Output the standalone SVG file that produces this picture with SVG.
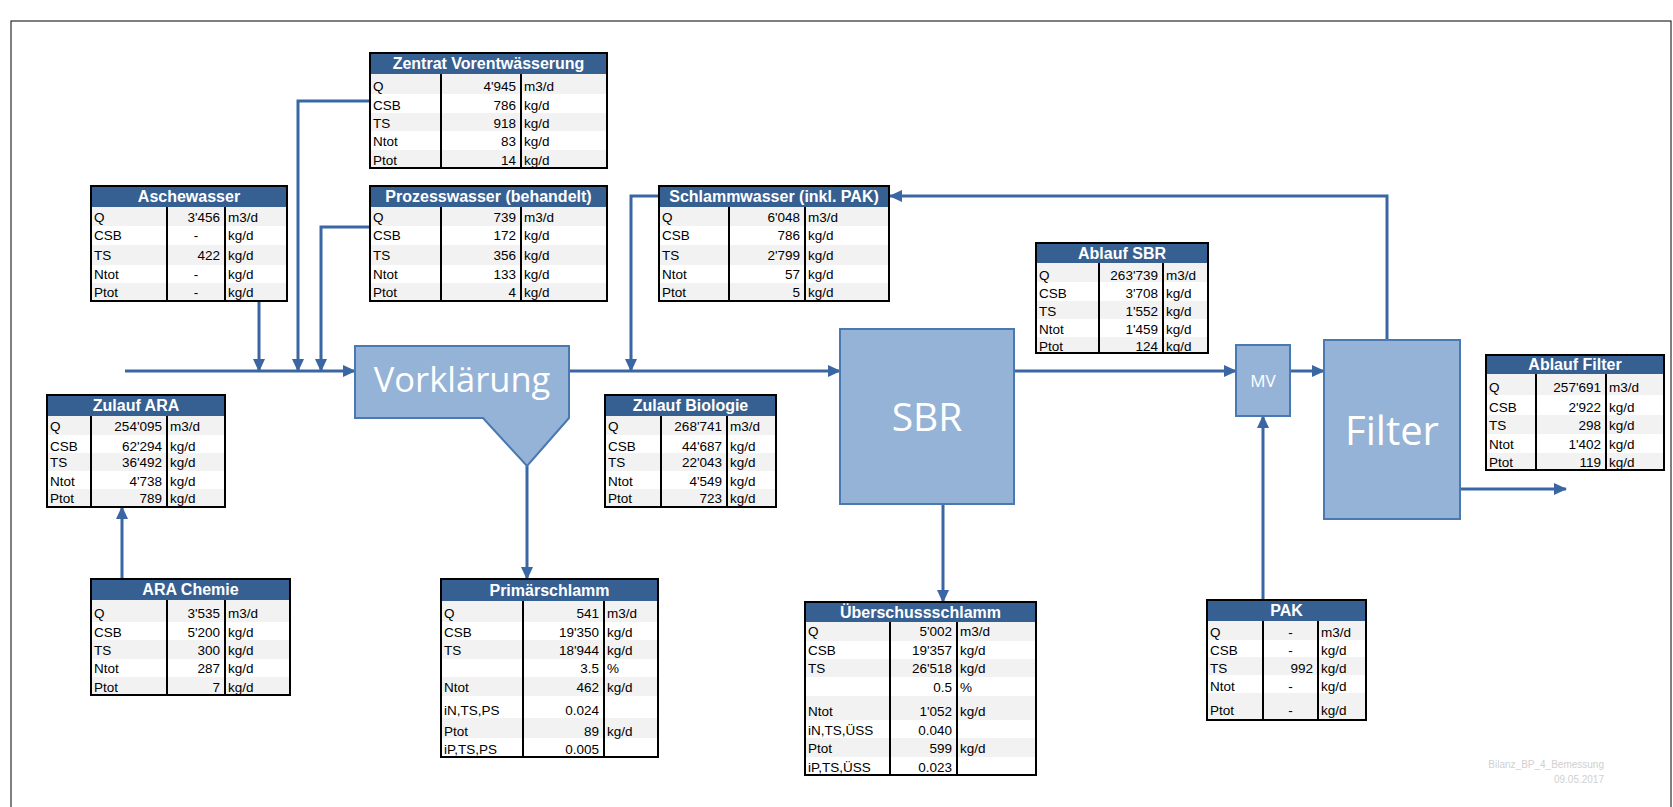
<svg xmlns="http://www.w3.org/2000/svg" width="1673" height="807" viewBox="0 0 1673 807">
<defs>
<style>
.tt{fill:#376092}
.th{font-family:"Liberation Sans",Arial,sans-serif;font-weight:bold;font-size:16px;fill:#fff;text-anchor:middle}
.td{font-family:"Liberation Sans",Arial,sans-serif;font-size:13.5px;fill:#000}
.r{text-anchor:end}
.c{text-anchor:middle}
.g{fill:#F2F2F2}
.bd{fill:none;stroke:#000;stroke-width:2}
.ln{stroke:#000;stroke-width:2}
.shape{fill:#95B3D7;stroke:#4A78B0;stroke-width:2}
.big{font-family:"Open Sans","Liberation Sans",sans-serif;fill:#fff;text-anchor:middle}
.conn path{fill:none;stroke:#3A67A3;stroke-width:3}
.foot{font-family:"Liberation Sans",Arial,sans-serif;font-size:10px;fill:#D0D0D0;text-anchor:end}
</style>
<marker id="ah" viewBox="0 0 13 12" refX="12" refY="6" markerWidth="13" markerHeight="12" markerUnits="userSpaceOnUse" orient="auto">
<path d="M0,0 L13,6 L0,12 z" fill="#3A67A3"/>
</marker>
</defs>
<rect x="0" y="0" width="1673" height="807" fill="#fff"/>
<rect x="11" y="21" width="1660" height="800" fill="none" stroke="#000" stroke-width="1"/>

<g class="conn">
<path d="M125 371 H355" marker-end="url(#ah)"/>
<path d="M259 301 V371" marker-end="url(#ah)"/>
<path d="M370 101 H298 V371" marker-end="url(#ah)"/>
<path d="M370 227 H321 V371" marker-end="url(#ah)"/>
<path d="M569 371 H840" marker-end="url(#ah)"/>
<path d="M659 196 H631 V371" marker-end="url(#ah)"/>
<path d="M1014 371 H1236" marker-end="url(#ah)"/>
<path d="M1290 371 H1324" marker-end="url(#ah)"/>
<path d="M1387 340 V196 H890" marker-end="url(#ah)"/>
<path d="M1460 489 H1566" marker-end="url(#ah)"/>
<path d="M527 466 V579" marker-end="url(#ah)"/>
<path d="M943 504 V602" marker-end="url(#ah)"/>
<path d="M1263 600 V416" marker-end="url(#ah)"/>
<path d="M122 579 V507" marker-end="url(#ah)"/>
</g>

<g id="vorklaerung">
<path class="shape" d="M355 346 H569 V418 L527 466 L483 418 H355 Z"/>
<text class="big" x="462" y="392" font-size="34.5">Vorklärung</text>
</g>
<g id="sbr">
<rect class="shape" x="840" y="329" width="174" height="175"/>
<text class="big" x="927" y="431" font-size="39">SBR</text>
</g>
<g id="mv">
<rect class="shape" x="1236" y="345" width="54" height="71"/>
<text class="big" x="1263" y="387" font-size="17">MV</text>
</g>
<g id="filter">
<rect class="shape" x="1324" y="340" width="136" height="179"/>
<text class="big" x="1392" y="445" font-size="40">Filter</text>
</g>

<g id="t-zentrat">
<rect class="tt" x="370" y="53" width="237" height="21"/>
<rect class="g" x="370" y="74" width="237" height="20"/>
<rect class="g" x="370" y="113" width="237" height="18"/>
<rect class="g" x="370" y="150" width="237" height="18"/>
<text class="th" x="488.5" y="69">Zentrat Vorentwässerung</text>
<text class="td" x="373" y="90.7">Q</text><text class="td r" x="516" y="90.7">4'945</text><text class="td" x="524" y="90.7">m3/d</text>
<text class="td" x="373" y="110">CSB</text><text class="td r" x="516" y="110">786</text><text class="td" x="524" y="110">kg/d</text>
<text class="td" x="373" y="128.3">TS</text><text class="td r" x="516" y="128.3">918</text><text class="td" x="524" y="128.3">kg/d</text>
<text class="td" x="373" y="146">Ntot</text><text class="td r" x="516" y="146">83</text><text class="td" x="524" y="146">kg/d</text>
<text class="td" x="373" y="165">Ptot</text><text class="td r" x="516" y="165">14</text><text class="td" x="524" y="165">kg/d</text>
<line class="ln" x1="441" y1="74" x2="441" y2="168"/><line class="ln" x1="521" y1="74" x2="521" y2="168"/>
<rect class="bd" x="370" y="53" width="237" height="115"/>
</g>

<g id="t-asche">
<rect class="tt" x="91" y="186" width="196" height="21"/>
<rect class="g" x="91" y="207" width="196" height="19"/>
<rect class="g" x="91" y="245" width="196" height="20"/>
<rect class="g" x="91" y="283" width="196" height="18"/>
<text class="th" x="189" y="202">Aschewasser</text>
<text class="td" x="94" y="221.7">Q</text><text class="td r" x="220" y="221.7">3'456</text><text class="td" x="228" y="221.7">m3/d</text>
<text class="td" x="94" y="240">CSB</text><text class="td c" x="196" y="240">-</text><text class="td" x="228" y="240">kg/d</text>
<text class="td" x="94" y="260">TS</text><text class="td r" x="220" y="260">422</text><text class="td" x="228" y="260">kg/d</text>
<text class="td" x="94" y="279">Ntot</text><text class="td c" x="196" y="279">-</text><text class="td" x="228" y="279">kg/d</text>
<text class="td" x="94" y="296.7">Ptot</text><text class="td c" x="196" y="296.7">-</text><text class="td" x="228" y="296.7">kg/d</text>
<line class="ln" x1="167" y1="207" x2="167" y2="301"/><line class="ln" x1="225" y1="207" x2="225" y2="301"/>
<rect class="bd" x="91" y="186" width="196" height="115"/>
</g>

<g id="t-prozess">
<rect class="tt" x="370" y="186" width="237" height="21"/>
<rect class="g" x="370" y="207" width="237" height="19"/>
<rect class="g" x="370" y="245" width="237" height="20"/>
<rect class="g" x="370" y="283" width="237" height="18"/>
<text class="th" x="488.5" y="202">Prozesswasser (behandelt)</text>
<text class="td" x="373" y="221.7">Q</text><text class="td r" x="516" y="221.7">739</text><text class="td" x="524" y="221.7">m3/d</text>
<text class="td" x="373" y="240">CSB</text><text class="td r" x="516" y="240">172</text><text class="td" x="524" y="240">kg/d</text>
<text class="td" x="373" y="260">TS</text><text class="td r" x="516" y="260">356</text><text class="td" x="524" y="260">kg/d</text>
<text class="td" x="373" y="279">Ntot</text><text class="td r" x="516" y="279">133</text><text class="td" x="524" y="279">kg/d</text>
<text class="td" x="373" y="296.7">Ptot</text><text class="td r" x="516" y="296.7">4</text><text class="td" x="524" y="296.7">kg/d</text>
<line class="ln" x1="441" y1="207" x2="441" y2="301"/><line class="ln" x1="521" y1="207" x2="521" y2="301"/>
<rect class="bd" x="370" y="186" width="237" height="115"/>
</g>

<g id="t-schlamm">
<rect class="tt" x="659" y="186" width="230" height="21"/>
<rect class="g" x="659" y="207" width="230" height="19"/>
<rect class="g" x="659" y="245" width="230" height="20"/>
<rect class="g" x="659" y="283" width="230" height="18"/>
<text class="th" x="774" y="202">Schlammwasser (inkl. PAK)</text>
<text class="td" x="662" y="221.7">Q</text><text class="td r" x="800" y="221.7">6'048</text><text class="td" x="808" y="221.7">m3/d</text>
<text class="td" x="662" y="240">CSB</text><text class="td r" x="800" y="240">786</text><text class="td" x="808" y="240">kg/d</text>
<text class="td" x="662" y="260">TS</text><text class="td r" x="800" y="260">2'799</text><text class="td" x="808" y="260">kg/d</text>
<text class="td" x="662" y="279">Ntot</text><text class="td r" x="800" y="279">57</text><text class="td" x="808" y="279">kg/d</text>
<text class="td" x="662" y="296.7">Ptot</text><text class="td r" x="800" y="296.7">5</text><text class="td" x="808" y="296.7">kg/d</text>
<line class="ln" x1="729" y1="207" x2="729" y2="301"/><line class="ln" x1="805" y1="207" x2="805" y2="301"/>
<rect class="bd" x="659" y="186" width="230" height="115"/>
</g>

<g id="t-ablaufsbr">
<rect class="tt" x="1036" y="243" width="172" height="20"/>
<rect class="g" x="1036" y="263" width="172" height="19"/>
<rect class="g" x="1036" y="301" width="172" height="18"/>
<rect class="g" x="1036" y="337" width="172" height="16"/>
<text class="th" x="1122" y="258.5">Ablauf SBR</text>
<text class="td" x="1039" y="280">Q</text><text class="td r" x="1158" y="280">263'739</text><text class="td" x="1166" y="280">m3/d</text>
<text class="td" x="1039" y="298">CSB</text><text class="td r" x="1158" y="298">3'708</text><text class="td" x="1166" y="298">kg/d</text>
<text class="td" x="1039" y="316">TS</text><text class="td r" x="1158" y="316">1'552</text><text class="td" x="1166" y="316">kg/d</text>
<text class="td" x="1039" y="334">Ntot</text><text class="td r" x="1158" y="334">1'459</text><text class="td" x="1166" y="334">kg/d</text>
<text class="td" x="1039" y="351">Ptot</text><text class="td r" x="1158" y="351">124</text><text class="td" x="1166" y="351">kg/d</text>
<line class="ln" x1="1099" y1="263" x2="1099" y2="353"/><line class="ln" x1="1163" y1="263" x2="1163" y2="353"/>
<rect class="bd" x="1036" y="243" width="172" height="110"/>
</g>

<g id="t-zulaufara">
<rect class="tt" x="47" y="395" width="178" height="21"/>
<rect class="g" x="47" y="416" width="178" height="19"/>
<rect class="g" x="47" y="453" width="178" height="18"/>
<rect class="g" x="47" y="489" width="178" height="18"/>
<text class="th" x="136" y="411">Zulauf ARA</text>
<text class="td" x="50" y="430.7">Q</text><text class="td r" x="162" y="430.7">254'095</text><text class="td" x="170" y="430.7">m3/d</text>
<text class="td" x="50" y="450.7">CSB</text><text class="td r" x="162" y="450.7">62'294</text><text class="td" x="170" y="450.7">kg/d</text>
<text class="td" x="50" y="467.3">TS</text><text class="td r" x="162" y="467.3">36'492</text><text class="td" x="170" y="467.3">kg/d</text>
<text class="td" x="50" y="485.7">Ntot</text><text class="td r" x="162" y="485.7">4'738</text><text class="td" x="170" y="485.7">kg/d</text>
<text class="td" x="50" y="503.3">Ptot</text><text class="td r" x="162" y="503.3">789</text><text class="td" x="170" y="503.3">kg/d</text>
<line class="ln" x1="91" y1="416" x2="91" y2="507"/><line class="ln" x1="167" y1="416" x2="167" y2="507"/>
<rect class="bd" x="47" y="395" width="178" height="112"/>
</g>

<g id="t-zulaufbio">
<rect class="tt" x="605" y="395" width="171" height="21"/>
<rect class="g" x="605" y="416" width="171" height="19"/>
<rect class="g" x="605" y="453" width="171" height="18"/>
<rect class="g" x="605" y="489" width="171" height="18"/>
<text class="th" x="690.5" y="411">Zulauf Biologie</text>
<text class="td" x="608" y="430.7">Q</text><text class="td r" x="722" y="430.7">268'741</text><text class="td" x="730" y="430.7">m3/d</text>
<text class="td" x="608" y="450.7">CSB</text><text class="td r" x="722" y="450.7">44'687</text><text class="td" x="730" y="450.7">kg/d</text>
<text class="td" x="608" y="467.3">TS</text><text class="td r" x="722" y="467.3">22'043</text><text class="td" x="730" y="467.3">kg/d</text>
<text class="td" x="608" y="485.7">Ntot</text><text class="td r" x="722" y="485.7">4'549</text><text class="td" x="730" y="485.7">kg/d</text>
<text class="td" x="608" y="503.3">Ptot</text><text class="td r" x="722" y="503.3">723</text><text class="td" x="730" y="503.3">kg/d</text>
<line class="ln" x1="661" y1="416" x2="661" y2="507"/><line class="ln" x1="727" y1="416" x2="727" y2="507"/>
<rect class="bd" x="605" y="395" width="171" height="112"/>
</g>

<g id="t-ablauffilter">
<rect class="tt" x="1486" y="355" width="178" height="19"/>
<rect class="g" x="1486" y="374" width="178" height="21"/>
<rect class="g" x="1486" y="415" width="178" height="19"/>
<rect class="g" x="1486" y="453" width="178" height="17"/>
<text class="th" x="1575" y="370">Ablauf Filter</text>
<text class="td" x="1489" y="391.7">Q</text><text class="td r" x="1601" y="391.7">257'691</text><text class="td" x="1609" y="391.7">m3/d</text>
<text class="td" x="1489" y="411.7">CSB</text><text class="td r" x="1601" y="411.7">2'922</text><text class="td" x="1609" y="411.7">kg/d</text>
<text class="td" x="1489" y="430">TS</text><text class="td r" x="1601" y="430">298</text><text class="td" x="1609" y="430">kg/d</text>
<text class="td" x="1489" y="449">Ntot</text><text class="td r" x="1601" y="449">1'402</text><text class="td" x="1609" y="449">kg/d</text>
<text class="td" x="1489" y="466.7">Ptot</text><text class="td r" x="1601" y="466.7">119</text><text class="td" x="1609" y="466.7">kg/d</text>
<line class="ln" x1="1536" y1="374" x2="1536" y2="470"/><line class="ln" x1="1606" y1="374" x2="1606" y2="470"/>
<rect class="bd" x="1486" y="355" width="178" height="115"/>
</g>

<g id="t-arachemie">
<rect class="tt" x="91" y="579" width="199" height="21"/>
<rect class="g" x="91" y="600" width="199" height="22"/>
<rect class="g" x="91" y="640" width="199" height="19"/>
<rect class="g" x="91" y="677" width="199" height="18"/>
<text class="th" x="190.5" y="595">ARA Chemie</text>
<text class="td" x="94" y="618.3">Q</text><text class="td r" x="220" y="618.3">3'535</text><text class="td" x="228" y="618.3">m3/d</text>
<text class="td" x="94" y="636.7">CSB</text><text class="td r" x="220" y="636.7">5'200</text><text class="td" x="228" y="636.7">kg/d</text>
<text class="td" x="94" y="655">TS</text><text class="td r" x="220" y="655">300</text><text class="td" x="228" y="655">kg/d</text>
<text class="td" x="94" y="673.3">Ntot</text><text class="td r" x="220" y="673.3">287</text><text class="td" x="228" y="673.3">kg/d</text>
<text class="td" x="94" y="691.7">Ptot</text><text class="td r" x="220" y="691.7">7</text><text class="td" x="228" y="691.7">kg/d</text>
<line class="ln" x1="167" y1="600" x2="167" y2="695"/><line class="ln" x1="225" y1="600" x2="225" y2="695"/>
<rect class="bd" x="91" y="579" width="199" height="116"/>
</g>

<g id="t-primaer">
<rect class="tt" x="441" y="579" width="217" height="22"/>
<rect class="g" x="441" y="601" width="217" height="21"/>
<rect class="g" x="441" y="640" width="217" height="19"/>
<rect class="g" x="441" y="677" width="217" height="19"/>
<rect class="g" x="441" y="718" width="217" height="20"/>
<text class="th" x="549.5" y="595.5">Primärschlamm</text>
<text class="td" x="444" y="617.7">Q</text><text class="td r" x="599" y="617.7">541</text><text class="td" x="607" y="617.7">m3/d</text>
<text class="td" x="444" y="636.7">CSB</text><text class="td r" x="599" y="636.7">19'350</text><text class="td" x="607" y="636.7">kg/d</text>
<text class="td" x="444" y="655">TS</text><text class="td r" x="599" y="655">18'944</text><text class="td" x="607" y="655">kg/d</text>
<text class="td r" x="599" y="672.7">3.5</text><text class="td" x="607" y="672.7">%</text>
<text class="td" x="444" y="691.7">Ntot</text><text class="td r" x="599" y="691.7">462</text><text class="td" x="607" y="691.7">kg/d</text>
<text class="td" x="444" y="715">iN,TS,PS</text><text class="td r" x="599" y="715">0.024</text>
<text class="td" x="444" y="735.7">Ptot</text><text class="td r" x="599" y="735.7">89</text><text class="td" x="607" y="735.7">kg/d</text>
<text class="td" x="444" y="753.5">iP,TS,PS</text><text class="td r" x="599" y="753.5">0.005</text>
<line class="ln" x1="523" y1="601" x2="523" y2="757"/><line class="ln" x1="604" y1="601" x2="604" y2="757"/>
<rect class="bd" x="441" y="579" width="217" height="178"/>
</g>

<g id="t-ueberschuss">
<rect class="tt" x="805" y="602" width="231" height="20"/>
<rect class="g" x="805" y="622" width="231" height="19"/>
<rect class="g" x="805" y="659" width="231" height="18"/>
<rect class="g" x="805" y="696" width="231" height="24"/>
<rect class="g" x="805" y="738" width="231" height="19"/>
<text class="th" x="920.5" y="618">Überschussschlamm</text>
<text class="td" x="808" y="636">Q</text><text class="td r" x="952" y="636">5'002</text><text class="td" x="960" y="636">m3/d</text>
<text class="td" x="808" y="655">CSB</text><text class="td r" x="952" y="655">19'357</text><text class="td" x="960" y="655">kg/d</text>
<text class="td" x="808" y="673">TS</text><text class="td r" x="952" y="673">26'518</text><text class="td" x="960" y="673">kg/d</text>
<text class="td r" x="952" y="692">0.5</text><text class="td" x="960" y="692">%</text>
<text class="td" x="808" y="716">Ntot</text><text class="td r" x="952" y="716">1'052</text><text class="td" x="960" y="716">kg/d</text>
<text class="td" x="808" y="735">iN,TS,ÜSS</text><text class="td r" x="952" y="735">0.040</text>
<text class="td" x="808" y="753">Ptot</text><text class="td r" x="952" y="753">599</text><text class="td" x="960" y="753">kg/d</text>
<text class="td" x="808" y="772">iP,TS,ÜSS</text><text class="td r" x="952" y="772">0.023</text>
<line class="ln" x1="890" y1="622" x2="890" y2="775"/><line class="ln" x1="957" y1="622" x2="957" y2="775"/>
<rect class="bd" x="805" y="602" width="231" height="173"/>
</g>

<g id="t-pak">
<rect class="tt" x="1207" y="600" width="159" height="21"/>
<rect class="g" x="1207" y="621" width="159" height="19"/>
<rect class="g" x="1207" y="657" width="159" height="18"/>
<rect class="g" x="1207" y="693" width="159" height="27"/>
<text class="th" x="1286.5" y="616">PAK</text>
<text class="td" x="1210" y="636.7">Q</text><text class="td c" x="1290.5" y="636.7">-</text><text class="td" x="1321" y="636.7">m3/d</text>
<text class="td" x="1210" y="655">CSB</text><text class="td c" x="1290.5" y="655">-</text><text class="td" x="1321" y="655">kg/d</text>
<text class="td" x="1210" y="672.7">TS</text><text class="td r" x="1313" y="672.7">992</text><text class="td" x="1321" y="672.7">kg/d</text>
<text class="td" x="1210" y="690.7">Ntot</text><text class="td c" x="1290.5" y="690.7">-</text><text class="td" x="1321" y="690.7">kg/d</text>
<text class="td" x="1210" y="715">Ptot</text><text class="td c" x="1290.5" y="715">-</text><text class="td" x="1321" y="715">kg/d</text>
<line class="ln" x1="1263" y1="621" x2="1263" y2="720"/><line class="ln" x1="1318" y1="621" x2="1318" y2="720"/>
<rect class="bd" x="1207" y="600" width="159" height="120"/>
</g>

<text class="foot" x="1604" y="768">Bilanz_BP_4_Bemessung</text>
<text class="foot" x="1604" y="783">09.05.2017</text>
</svg>
